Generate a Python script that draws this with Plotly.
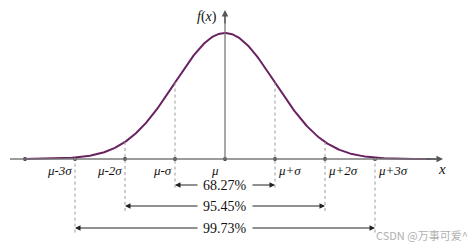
import numpy as np
import plotly.graph_objects as go

# Data (in units of sigma, mu = 0)
mu = 0.0
sigma = 1.0
tick_pos = [-3, -2, -1, 0, 1, 2, 3]
tick_labels = ["μ-3σ", "μ-2σ", "μ-σ", "μ", "μ+σ", "μ+2σ", "μ+3σ"]
intervals_k = [1, 2, 3]
interval_labels = ["68.27%", "95.45%", "99.73%"]

# curve (normal density, scaled to peak = 1)
xs = np.linspace(-4, 4.1, 400)
ys = np.exp(-0.5 * ((xs - mu) / sigma) ** 2)

PX = 50.0    # px per sigma
PY = 126.0   # px per unit height
def Y(px):   # pixel row -> data y
    return (159 - px) / PY
def X(px):
    return (px - 225) / PX

fig = go.Figure()
fig.add_trace(go.Scatter(x=xs, y=ys, mode="lines",
                         line=dict(color="#6a2160", width=2), hoverinfo="skip"))
fig.add_trace(go.Scatter(x=[-4] + tick_pos, y=[0] * (len(tick_pos) + 1), mode="markers",
                         marker=dict(color="#3a2a3a", size=4), hoverinfo="skip"))

fig.add_shape(type="line", x0=X(10), x1=X(436), y0=0, y1=0,
              line=dict(color="#7a7a7a", width=1.3))
fig.add_shape(type="line", x0=0, x1=0, y0=0, y1=Y(16),
              line=dict(color="#7a7a7a", width=1.3))

bottoms = {1: Y(188), 2: Y(213), 3: Y(235)}
for k in intervals_k:
    for s in (-1, 1):
        xv = s * k
        top = float(np.exp(-0.5 * xv ** 2))
        fig.add_shape(type="line", x0=xv, x1=xv, y0=top, y1=bottoms[k],
                      line=dict(color="#9a9a9a", width=1, dash="dot"))

SERIF = "Liberation Serif"
fig.add_annotation(x=X(443), y=0, ax=X(425), ay=0, axref="x", ayref="y",
                   text="", showarrow=True, arrowhead=2,
                   arrowsize=1, arrowwidth=1.3, arrowcolor="#555")
fig.add_annotation(x=0, y=Y(10), ax=0, ay=Y(25), axref="x", ayref="y",
                   text="", showarrow=True, arrowhead=2,
                   arrowsize=1, arrowwidth=1.3, arrowcolor="#555")
fig.add_annotation(x=X(219), y=Y(17), text="<i>f</i>(<i>x</i>)", showarrow=False,
                   xanchor="right", yanchor="middle",
                   font=dict(family=SERIF, size=14, color="#111"))
fig.add_annotation(x=X(436), y=Y(169), text="<i>x</i>", showarrow=False,
                   xanchor="left", yanchor="middle",
                   font=dict(family=SERIF, size=15, color="#111"))

for p, lab in zip(tick_pos, tick_labels):
    if p < 0:
        xa, xx = "right", p - 0.02
    elif p > 0:
        xa, xx = "left", p + 0.02
    else:
        xa, xx = "right", -0.08
    fig.add_annotation(x=xx, y=Y(170), text="<i>" + lab + "</i>", showarrow=False,
                       xanchor=xa, yanchor="middle",
                       font=dict(family=SERIF, size=13, color="#111"))

rows = [Y(185), Y(206), Y(228)]
for k, lab, yr in zip(intervals_k, interval_labels, rows):
    fig.add_annotation(x=0, y=yr, text=lab, showarrow=False,
                       xanchor="center", yanchor="middle",
                       font=dict(family=SERIF, size=14, color="#111"))
    for s in (-1, 1):
        fig.add_annotation(x=s * k, y=yr, ax=s * 0.52, ay=yr, axref="x", ayref="y",
                           text="", showarrow=True,
                           arrowhead=2, arrowsize=1.1, arrowwidth=1,
                           arrowcolor="#222")

fig.add_annotation(x=1.0, y=0.0, xref="paper", yref="paper", text="CSDN @万事可爱^",
                   showarrow=False, xanchor="right", yanchor="bottom", yshift=4, xshift=-4,
                   font=dict(family="Noto Sans CJK SC", size=11, color="#b0b0b0"))

fig.update_layout(
    width=474, height=249, margin=dict(l=0, r=0, t=0, b=0),
    font=dict(family=SERIF, size=14, color="#111"),
    paper_bgcolor="white", plot_bgcolor="white", showlegend=False,
    xaxis=dict(range=[X(0), X(474)], visible=False, fixedrange=True),
    yaxis=dict(range=[Y(249), Y(0)], visible=False, fixedrange=True),
)
fig.write_html("out.html")
